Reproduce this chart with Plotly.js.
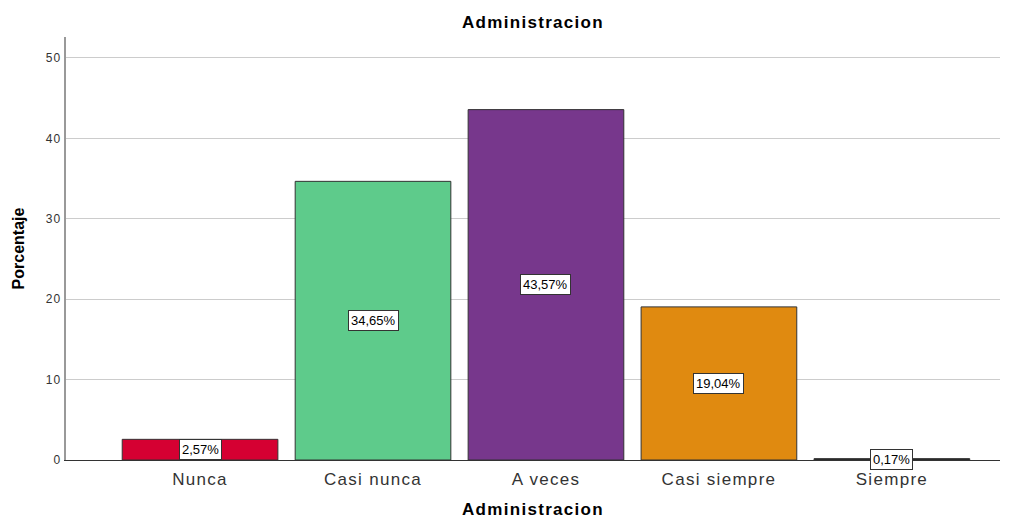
<!DOCTYPE html>
<html>
<head>
<meta charset="utf-8">
<script src="https://cdn.plot.ly/plotly-3.0.1.min.js"></script>
<style>
html,body{margin:0;padding:0;background:#fff;}
#chart{width:1014px;height:519px;}
#chart .gtitle, #chart .g-xtitle text, #chart .xtick text, #chart .ytick text {letter-spacing:1.3px;}
</style>
</head>
<body>
<div id="chart"></div>
<script>
const categories = ["Nunca", "Casi nunca", "A veces", "Casi siempre", "Siempre"];
const values = [2.57, 34.65, 43.57, 19.04, 0.17];
const colors = ["#d50032", "#5ecb8b", "#77378c", "#e08a10", "#222222"];
const yTicks = [0, 10, 20, 30, 40, 50];

const fmt = v => v.toFixed(2).replace(".", ",") + "%";
const FONT = "Liberation Sans, Arial, sans-serif";

const trace = {
  type: "bar",
  x: categories,
  y: values,
  width: 0.9,
  marker: {color: colors, line: {color: "#333333", width: 1}},
  hoverinfo: "none"
};

const annotations = categories.map((c, i) => ({
  x: c, y: values[i] / 2, xref: "x", yref: "y",
  text: fmt(values[i]), showarrow: false,
  font: {family: FONT, size: 13, color: "#000"},
  bgcolor: "#ffffff", bordercolor: "#333333", borderwidth: 1, borderpad: 2
}));

const layout = {
  width: 1014, height: 519,
  margin: {l: 66, r: 14, t: 37, b: 59},
  paper_bgcolor: "#ffffff", plot_bgcolor: "#ffffff",
  font: {family: FONT, color: "#333"},
  title: {text: "<b>Administracion</b>", font: {size: 17, color: "#000"}, x: 0.5, xanchor: "center", xref: "paper", y: 0.958, yanchor: "middle"},
  showlegend: false,
  bargap: 0.1,
  xaxis: {
    range: [-0.775, 4.625],
    showline: true, linecolor: "#333", linewidth: 1,
    showgrid: false, ticks: "",
    ticklabelstandoff: 4,
    tickfont: {size: 17, color: "#333"},
    title: {text: "<b>Administracion</b>", font: {size: 17, color: "#000"}, standoff: 20}
  },
  yaxis: {
    range: [0, 52.6],
    tickvals: yTicks, ticktext: yTicks.map(String),
    showline: true, linecolor: "#999", linewidth: 2,
    showgrid: true, gridcolor: "#cccccc", gridwidth: 1,
    zeroline: false, ticks: "",
    tickfont: {size: 12, color: "#333"},
    title: {text: "<b>Porcentaje</b>", font: {size: 16, color: "#000"}, standoff: 20}
  },
  annotations: annotations
};

Plotly.newPlot("chart", [trace], layout, {displayModeBar: false, staticPlot: true});
</script>
</body>
</html>
